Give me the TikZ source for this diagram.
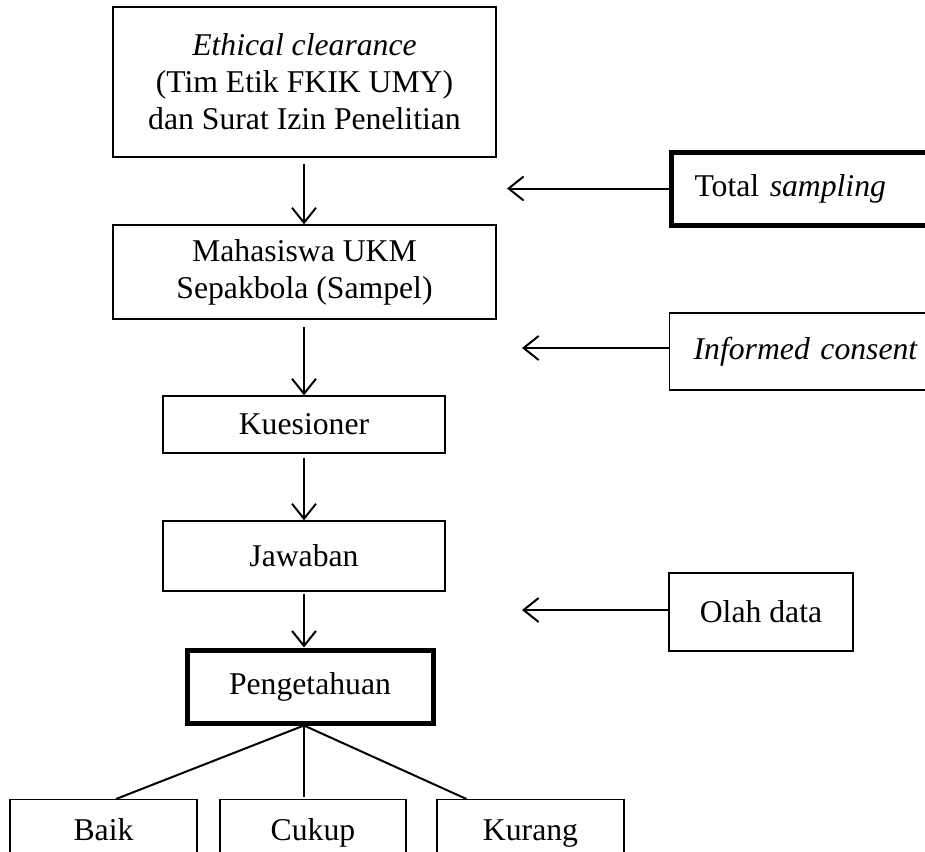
\documentclass[tikz,border=0pt]{standalone}
\usepackage{fontspec}
\setmainfont{Liberation Serif}
\usetikzlibrary{arrows.meta,calc}
\begin{document}
\begin{tikzpicture}[x=1bp,y=-1bp,
  box/.style={draw, line width=1.3bp, inner sep=0pt, align=center,
    font=\fontsize{31.7bp}{37bp}\selectfont},
  thickbox/.style={box, line width=5bp},
  arr/.style={line width=2bp, -{Straight Barb[length=15bp,width=24bp,line width=2bp]}},
  conn/.style={line width=2bp},
  leaf/.style={box, anchor=north, inner ysep=19bp, text height=22bp, text depth=40bp}]
\useasboundingbox (0,0) rectangle (925,852);
\fill[white] (0,0) rectangle (925,852);
\clip (0,0) rectangle (925,852);
% main column
\node[box, minimum width=383bp, minimum height=150bp] (top) at (304.5,82)
  {\textit{Ethical clearance}\\(Tim Etik FKIK UMY)\\dan Surat Izin Penelitian};
\node[box, minimum width=383bp, minimum height=94bp] (samp) at (304.5,272)
  {Mahasiswa UKM\\Sepakbola (Sampel)};
\node[box, minimum width=282bp, minimum height=57bp] (kues) at (304,424.5) {Kuesioner};
\node[box, minimum width=282bp, minimum height=70bp] (jaw) at (304,556) {Jawaban};
\node[thickbox, minimum width=246bp, minimum height=73bp] (peng) at (310,686.5) {Pengetahuan};
% bottom row
\node[leaf, minimum width=187bp] (baik) at (103.5,799) {Baik};
\node[leaf, minimum width=186bp] (cukup) at (313,799) {Cukup};
\node[leaf, minimum width=187bp] (kurang) at (530.5,799) {Kurang};
% right side
\node[thickbox, anchor=west, minimum height=73bp, text width=260bp, inner xsep=23bp, align=left]
  (ts) at (669,188.5) {Total \textit{sampling}};
\node[box, anchor=west, minimum height=77bp, text width=260bp, inner xsep=24bp, align=left]
  (ic) at (669,351.5) {\textit{Informed consent}};
\node[box, minimum width=184bp, minimum height=78bp] (od) at (761,612) {Olah data};
% arrows
\draw[arr, shorten <=6bp] (top.south -| kues.south) -- (samp.north -| kues.south);
\draw[arr, shorten <=7bp] (samp.south -| kues.south) -- (kues.north);
\draw[arr, shorten <=4bp] (kues.south) -- (jaw.north);
\draw[arr, shorten <=2bp] (jaw.south) -- (jaw.south |- peng.north);
\coordinate (t1) at (507,187);
\coordinate (t2) at (522,348);
\coordinate (t3) at (522,610);
\draw[arr] (ts.west) -- (ts.west -| t1);
\draw[arr] (ic.west |- t2) -- (t2);
\draw[arr] (od.west |- t3) -- (t3);
% branches
\coordinate (apex) at (peng.south -| kues.south);
\draw[conn] (apex) -- ($(baik.north)+(12.5,0)$);
\draw[conn] (apex) -- (apex |- {$(cukup.north)+(0,-2)$});
\draw[conn] (apex) -- ($(kurang.north)+(-64,0)$);
\end{tikzpicture}
\end{document}
